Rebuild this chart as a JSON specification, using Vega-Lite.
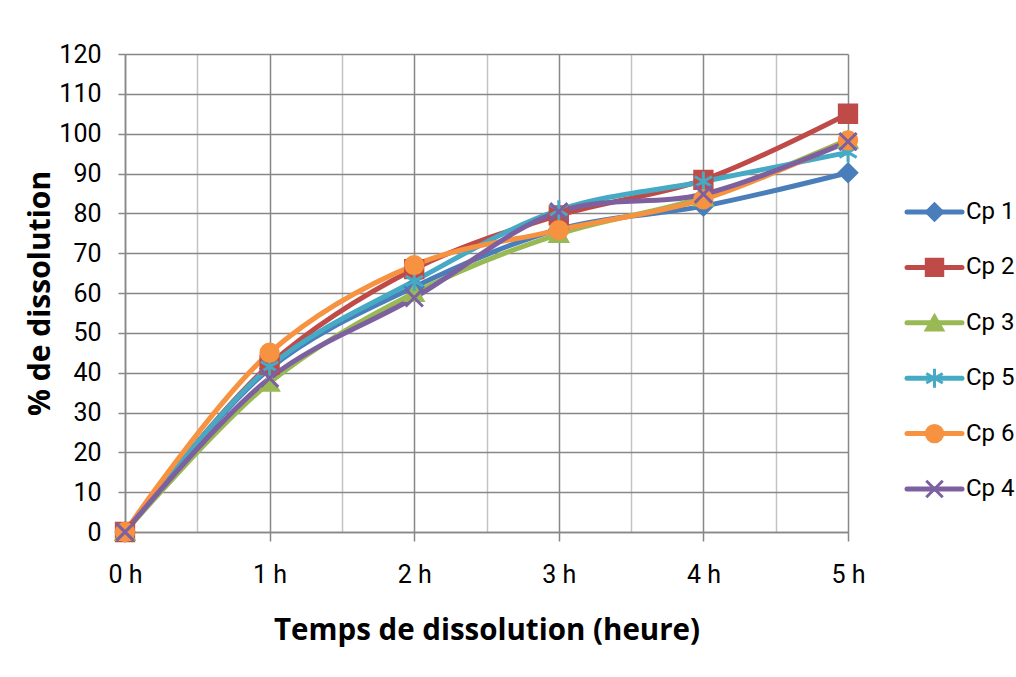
{
  "$schema": "https://vega.github.io/schema/vega-lite/v6.json",
  "autosize": {"type": "pad"},
  "padding": {"left": 25, "top": 42, "right": 5, "bottom": 5},
  "background": "white",
  "bounds": "flush",
  "spacing": 59,
  "config": {
    "view": {"stroke": null},
    "font": "Roboto"
  },
  "datasets": {
    "curves": [
      {"series": "Cp 1", "t": 0, "pct": 0},
      {"series": "Cp 1", "t": 1, "pct": 41},
      {"series": "Cp 1", "t": 2, "pct": 61.5},
      {"series": "Cp 1", "t": 3, "pct": 76},
      {"series": "Cp 1", "t": 4, "pct": 81.8},
      {"series": "Cp 1", "t": 5, "pct": 90.2},
      {"series": "Cp 2", "t": 0, "pct": 0},
      {"series": "Cp 2", "t": 1, "pct": 42},
      {"series": "Cp 2", "t": 2, "pct": 66},
      {"series": "Cp 2", "t": 3, "pct": 79.5},
      {"series": "Cp 2", "t": 4, "pct": 88.4},
      {"series": "Cp 2", "t": 5, "pct": 105},
      {"series": "Cp 3", "t": 0, "pct": 0},
      {"series": "Cp 3", "t": 1, "pct": 37.5},
      {"series": "Cp 3", "t": 2, "pct": 60},
      {"series": "Cp 3", "t": 3, "pct": 74.8},
      {"series": "Cp 3", "t": 4, "pct": 84},
      {"series": "Cp 3", "t": 5, "pct": 98.5},
      {"series": "Cp 5", "t": 0, "pct": 0},
      {"series": "Cp 5", "t": 1, "pct": 41.5},
      {"series": "Cp 5", "t": 2, "pct": 63},
      {"series": "Cp 5", "t": 3, "pct": 80.8},
      {"series": "Cp 5", "t": 4, "pct": 88},
      {"series": "Cp 5", "t": 5, "pct": 95.3},
      {"series": "Cp 6", "t": 0, "pct": 0},
      {"series": "Cp 6", "t": 1, "pct": 45},
      {"series": "Cp 6", "t": 2, "pct": 67},
      {"series": "Cp 6", "t": 3, "pct": 75.8},
      {"series": "Cp 6", "t": 4, "pct": 83.5},
      {"series": "Cp 6", "t": 5, "pct": 98.3},
      {"series": "Cp 4", "t": 0, "pct": 0},
      {"series": "Cp 4", "t": 1, "pct": 38.6},
      {"series": "Cp 4", "t": 2, "pct": 58.8},
      {"series": "Cp 4", "t": 3, "pct": 80.4},
      {"series": "Cp 4", "t": 4, "pct": 84.8},
      {"series": "Cp 4", "t": 5, "pct": 98}
    ],
    "legend": [
      {"series": "Cp 1", "rank": 1},
      {"series": "Cp 2", "rank": 2},
      {"series": "Cp 3", "rank": 3},
      {"series": "Cp 5", "rank": 4},
      {"series": "Cp 6", "rank": 5},
      {"series": "Cp 4", "rank": 6}
    ]
  },
  "resolve": {"scale": {"fill": "shared", "stroke": "shared", "shape": "shared"}},
  "hconcat": [
    {
      "width": 723,
      "height": 478,
      "data": {"name": "curves"},
      "encoding": {
        "x": {
          "field": "t", "type": "quantitative",
          "scale": {"domain": [0, 5], "nice": false, "zero": false},
          "axis": {
            "values": [0, 0.5, 1, 1.5, 2, 2.5, 3, 3.5, 4, 4.5, 5],
            "labelExpr": "datum.value % 1 === 0 ? datum.value + ' h' : ''",
            "labelOverlap": false,
            "grid": true,
            "gridColor": {"condition": {"test": "datum.value % 1 === 0", "value": "#878787"}, "value": "#c3c3c3"},
            "gridWidth": 1.5,
            "tickColor": {"condition": {"test": "datum.value % 1 === 0", "value": "#878787"}, "value": "transparent"},
            "tickSize": 9,
            "tickWidth": 1.5,
            "domainColor": "#878787",
            "domainWidth": 1.5,
            "labelFont": "Roboto",
            "labelFontSize": 25,
            "labelColor": "#000000",
            "labelPadding": 21,
            "labelFlush": false,
            "title": "Temps de dissolution (heure)",
            "titleFont": "Open Sans",
            "titleFontSize": 29.5,
            "titleFontWeight": "bold",
            "titleColor": "#000000",
            "titlePadding": 29
          }
        },
        "y": {
          "field": "pct", "type": "quantitative",
          "scale": {"domain": [0, 120], "nice": false},
          "axis": {
            "values": [0, 10, 20, 30, 40, 50, 60, 70, 80, 90, 100, 110, 120],
            "labelOverlap": false,
            "grid": true,
            "gridColor": "#878787",
            "gridWidth": 1.5,
            "tickColor": "#878787",
            "tickSize": 7,
            "tickWidth": 1.5,
            "domainColor": "#878787",
            "domainWidth": 1.5,
            "labelFont": "Roboto",
            "labelFontSize": 25,
            "labelColor": "#000000",
            "labelPadding": 17,
            "title": "% de dissolution",
            "titleFont": "Open Sans",
            "titleFontSize": 30,
            "titleFontWeight": "bold",
            "titleColor": "#000000",
            "titlePadding": 3
          }
        }
      },
      "layer": [
        {
          "mark": {"type": "line", "strokeWidth": 5, "interpolate": "catmull-rom", "strokeCap": "round", "strokeJoin": "round"},
          "encoding": {
            "stroke": {
              "field": "series", "type": "nominal", "legend": null,
              "scale": {"domain": ["Cp 1", "Cp 2", "Cp 3", "Cp 5", "Cp 6", "Cp 4"],
                        "range": ["#4A7EBB", "#BE4B48", "#98B954", "#46AAC5", "#F69240", "#7D60A0"]}
            },
            "detail": {"field": "series"}
          }
        },
        {
          "mark": {"type": "point", "filled": true, "size": 300, "strokeWidth": 3, "opacity": 1},
          "encoding": {
            "fill": {
              "field": "series", "type": "nominal", "legend": null,
              "scale": {"domain": ["Cp 1", "Cp 2", "Cp 3", "Cp 5", "Cp 6", "Cp 4"],
                        "range": ["#4A7EBB", "#BE4B48", "#98B954", "#46AAC5", "#F69240", "#7D60A0"]}
            },
            "stroke": {"field": "series", "type": "nominal", "legend": null},
            "shape": {
              "field": "series", "type": "nominal", "legend": null,
              "scale": {"domain": ["Cp 1", "Cp 2", "Cp 3", "Cp 5", "Cp 6", "Cp 4"],
                        "range": ["diamond", "square", "triangle-up", "M0,-1.15V1.15M-1,-0.58L1,0.58M-1,0.58L1,-0.58", "circle", "M-1,-1L1,1M-1,1L1,-1"]}
            }
          }
        }
      ]
    },
    {
      "width": 110,
      "height": 478,
      "data": {"name": "legend"},
      "encoding": {
        "y": {"field": "rank", "type": "quantitative", "scale": {"domain": [-1.852, 6.776], "nice": false, "zero": false, "reverse": true}, "axis": null}
      },
      "layer": [
        {
          "mark": {"type": "rule", "strokeWidth": 5, "strokeCap": "round"},
          "encoding": {
            "x": {"datum": 0, "type": "quantitative", "scale": {"domain": [0, 2], "nice": false, "zero": false}, "axis": null},
            "x2": {"datum": 1},
            "stroke": {"field": "series", "type": "nominal", "legend": null}
          }
        },
        {
          "mark": {"type": "point", "filled": true, "size": 270, "strokeWidth": 3, "opacity": 1},
          "encoding": {
            "x": {"datum": 0.5, "type": "quantitative"},
            "fill": {"field": "series", "type": "nominal", "legend": null},
            "stroke": {"field": "series", "type": "nominal", "legend": null},
            "shape": {"field": "series", "type": "nominal", "legend": null}
          }
        },
        {
          "mark": {"type": "text", "align": "left", "baseline": "middle", "dx": 4, "font": "Roboto", "fontSize": 24, "color": "#000000"},
          "encoding": {
            "x": {"datum": 1, "type": "quantitative"},
            "text": {"field": "series"}
          }
        }
      ]
    }
  ]
}
